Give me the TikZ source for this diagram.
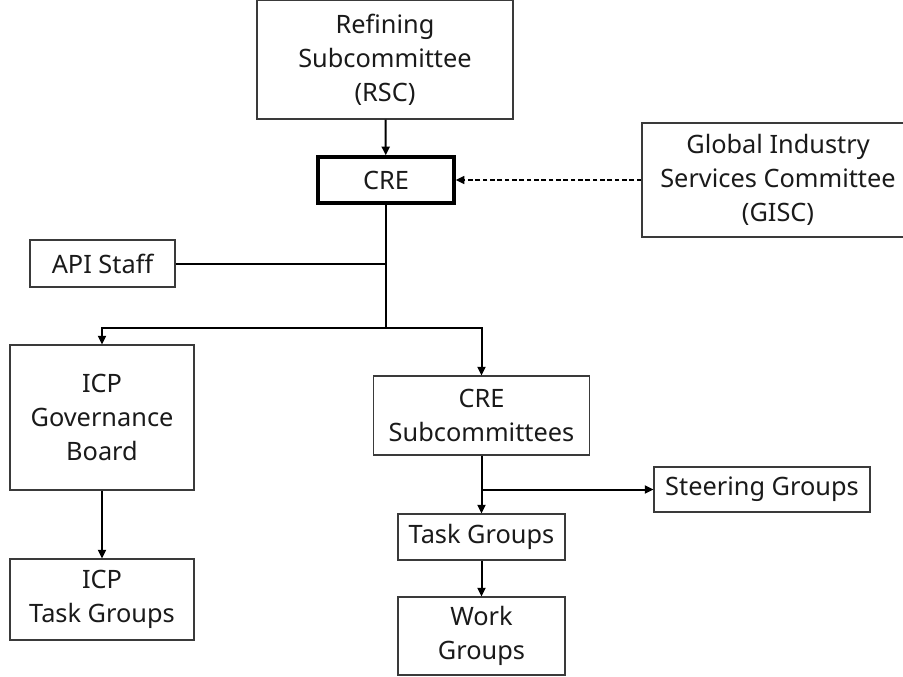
\documentclass[tikz,border=0pt]{standalone}
\usepackage{fontspec}
\setmainfont{Noto Sans}
\usetikzlibrary{arrows.meta,positioning}
\newcommand{\pxu}{*0.75pt}
\definecolor{ink}{HTML}{1A1A1A}
\definecolor{edge}{HTML}{3A3A3A}
\tikzset{
  box/.style={draw=edge,line width=0.8pt,fill=white,align=center,inner sep=2pt,text=ink,font=\fontsize{19}{25.5}\selectfont},
  core/.style={box,draw=black,line width=2.6pt},
  link/.style={line width=1.5pt,draw=black},
  flow/.style={link,-{Triangle[length=6.5pt,width=6pt]}},
  advice/.style={flow,line width=1.1pt,dash pattern=on 3.5pt off 2pt}
}
\begin{document}
\begin{tikzpicture}[x=0.75pt,y=-0.75pt]
\useasboundingbox (0,0) rectangle (903,676);
\node[box,minimum width=256\pxu,minimum height=119\pxu] (rsc) at (385,59.5) {Refining\\Subcommittee\\(RSC)};
\node[core,minimum width=136\pxu,minimum height=46\pxu] (cre) at (386,180) {CRE};
\node[box,minimum width=272\pxu,minimum height=114\pxu] (gisc) at (778,180) {Global Industry\\Services Committee\\(GISC)};
\node[box,minimum width=145\pxu,minimum height=47\pxu] (staff) at (102.5,263.5) {API Staff};
\node[box,minimum width=184\pxu,minimum height=145\pxu] (icpgb) at (102,417.5) {ICP\\Governance\\Board};
\node[box,minimum width=184\pxu,minimum height=81\pxu] (icptg) at (102,599.5) {ICP\\Task Groups};
\node[box,minimum width=216\pxu,minimum height=79\pxu] (cresub) at (481.5,415.5) {CRE\\Subcommittees};
\node[box,minimum width=216\pxu,minimum height=45\pxu] (steer) at (762,489.5) {Steering Groups};
\node[box,minimum width=167\pxu,minimum height=46\pxu] (taskg) at (481.5,537) {Task Groups};
\node[box,minimum width=167\pxu,minimum height=78\pxu] (workg) at (481.5,636) {Work\\Groups};
\coordinate (hub) at (386,328);
\coordinate (split) at (481.5,489.5);

\draw[flow] (rsc) -- (cre);
\draw[advice] (gisc) -- (cre);
\draw[link] (cre) -- (hub);
\draw[link] (staff.east) -- (staff.east -| hub);
\draw[flow] (hub) -| (icpgb);
\draw[flow] (hub) -| (cresub);
\draw[flow] (icpgb) -- (icptg);
\draw[flow] (cresub) -- (taskg);
\draw[flow] (split) -- (steer);
\draw[flow] (taskg) -- (workg);
\end{tikzpicture}
\end{document}
